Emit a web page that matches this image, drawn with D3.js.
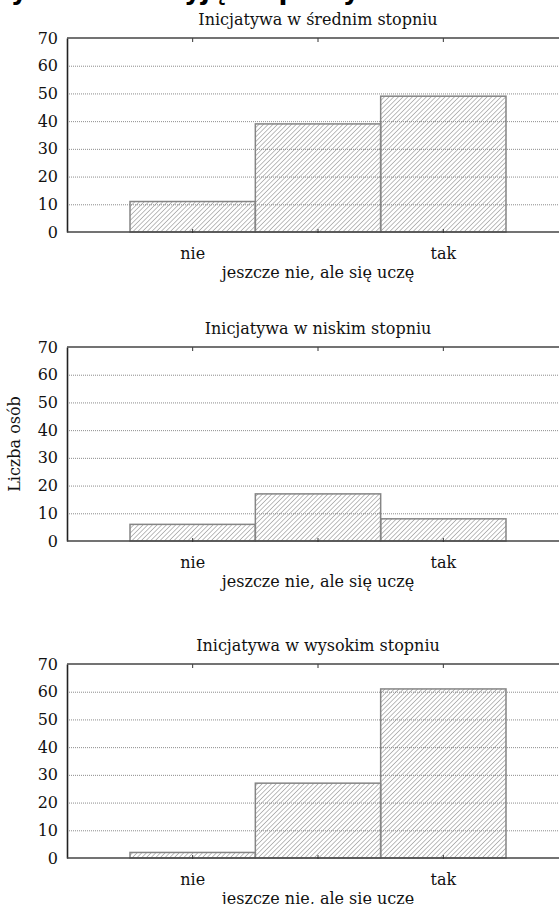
<!DOCTYPE html>
<html>
<head>
<meta charset="utf-8">
<script src="https://cdn.jsdelivr.net/npm/d3@7"></script>
<style>
  body { margin: 0; background: #fff; }
  svg { display: block; }
</style>
</head>
<body>
<div id="chart"></div>
<script>
// categories (answers) and the three groups
let categories = ['nie', 'jeszcze nie, ale się uczę', 'tak'];
let titles = [
    'Inicjatywa w średnim stopniu',
    'Inicjatywa w niskim stopniu',
    'Inicjatywa w wysokim stopniu'
];
let valuesMedium = [11, 39, 49];
let valuesLow = [6, 17, 8];
let valuesHigh = [2, 27, 61];
let yTicks = [0, 10, 20, 30, 40, 50, 60, 70];
let yLabel = 'Liczba osób';

let panels = [
    { title: titles[0], values: valuesMedium, top: 38 },
    { title: titles[1], values: valuesLow, top: 347 },
    { title: titles[2], values: valuesHigh, top: 664 }
];

// dimensions
let dim = { width: 559, height: 904 };
let plotLeft = 67;
let plotRight = 570;
let plotHeight = 194;
let font = '"DejaVu Serif", "Liberation Serif", serif';

let svg = d3.select('#chart')
    .append('svg')
    .attr('width', dim.width)
    .attr('height', dim.height);

// hatch pattern for the bars
svg.append('defs').append('pattern')
    .attr('id', 'hatch')
    .attr('patternUnits', 'userSpaceOnUse')
    .attr('width', 3.3)
    .attr('height', 3.3)
    .attr('patternTransform', 'rotate(45)')
    .append('line')
    .attr('x1', 0).attr('y1', 0)
    .attr('x2', 0).attr('y2', 3.3)
    .attr('stroke', '#7a7a7a')
    .attr('stroke-width', 1);

// heading of the page, cut off at the top edge (only descenders show)
svg.append('text')
    .attr('x', -18)
    .attr('y', -1)
    .attr('font-family', '"DejaVu Sans", sans-serif')
    .attr('font-weight', 'bold')
    .attr('font-size', 26)
    .text('Wykres 7. Przyjęcie pracy');

// x scale: bars touch each other
let x = d3.scaleBand()
    .domain(categories)
    .range([130, 506])
    .padding(0);

panels.forEach(p => {
    let g = svg.append('g');

    let y = d3.scaleLinear()
        .domain([0, 70])
        .range([p.top + plotHeight, p.top]);

    // dotted gridlines
    g.append('g')
        .selectAll('line')
        .data(yTicks.filter(t => t > 0 && t < 70))
        .join('line')
        .attr('x1', plotLeft)
        .attr('x2', plotRight)
        .attr('y1', d => y(d) + 0.5)
        .attr('y2', d => y(d) + 0.5)
        .attr('stroke', '#8c8c8c')
        .attr('stroke-width', 1)
        .attr('stroke-dasharray', '1,1');

    // bars
    g.append('g')
        .selectAll('rect')
        .data(p.values)
        .join('rect')
        .attr('x', (d, i) => x(categories[i]))
        .attr('y', d => y(d))
        .attr('width', x.bandwidth())
        .attr('height', d => y(0) - y(d))
        .attr('fill', 'url(#hatch)')
        .attr('stroke', '#858585')
        .attr('stroke-width', 1.5);

    // y axis
    let axisY = g.append('g')
        .attr('transform', `translate(${plotLeft}, 0)`)
        .call(d3.axisLeft(y).tickValues(yTicks).tickSize(0).tickPadding(9));
    axisY.select('.domain')
        .attr('stroke', '#222')
        .attr('stroke-width', 1.6);
    axisY.selectAll('text')
        .attr('font-family', font)
        .attr('font-size', 16)
        .attr('fill', '#111');

    // top border with ticks
    let axisTop = g.append('g')
        .attr('transform', `translate(0, ${p.top})`)
        .call(d3.axisBottom(x).tickSize(4).tickFormat(''));
    axisTop.select('.domain').remove();
    axisTop.append('line')
        .attr('x1', plotLeft).attr('x2', plotRight)
        .attr('stroke', '#444').attr('stroke-width', 1.5);
    axisTop.selectAll('.tick line').attr('stroke', '#333');

    // bottom axis
    let axisX = g.append('g')
        .attr('transform', `translate(0, ${y(0)})`)
        .call(d3.axisBottom(x).tickSize(3).tickPadding(12));
    axisX.select('.domain').remove();
    axisX.insert('line', ':first-child')
        .attr('x1', plotLeft).attr('x2', plotRight)
        .attr('stroke', '#444').attr('stroke-width', 1.5);
    axisX.selectAll('.tick line')
        .attr('y1', -3).attr('y2', 1)
        .attr('stroke', '#333');
    axisX.selectAll('text')
        .attr('font-family', font)
        .attr('font-size', 16)
        .attr('fill', '#111')
        // middle label sits lower than the other two
        .attr('dy', (d, i) => i === 1 ? '1.95em' : '0.75em');

    // panel title
    g.append('text')
        .attr('x', 318)
        .attr('y', p.top - 13)
        .attr('text-anchor', 'middle')
        .attr('font-family', font)
        .attr('font-size', 16)
        .attr('fill', '#111')
        .text(p.title);
});

// y axis title
svg.append('text')
    .attr('transform', 'translate(20, 444) rotate(-90)')
    .attr('text-anchor', 'middle')
    .attr('font-family', font)
    .attr('font-size', 16)
    .attr('fill', '#111')
    .text(yLabel);
</script>
</body>
</html>
